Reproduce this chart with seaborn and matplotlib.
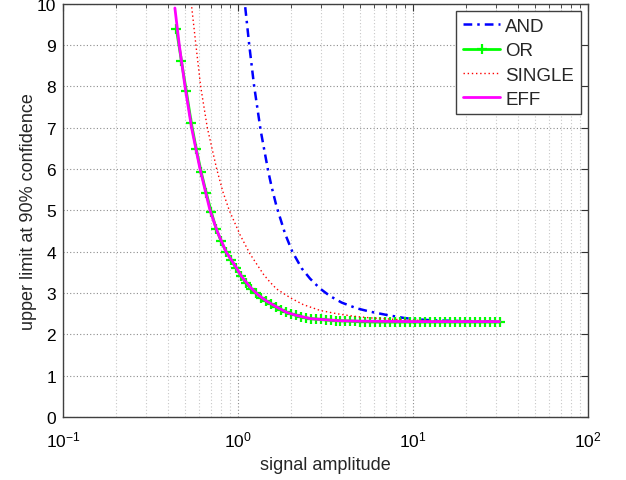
import matplotlib
matplotlib.use("Agg")
import matplotlib.pyplot as plt
import seaborn as sns
from matplotlib.ticker import LogLocator, NullFormatter

# values
amp_and = [1.10, 1.16, 1.234, 1.347, 1.49, 1.557, 1.66, 1.86, 2.04, 2.31,
           2.58, 2.94, 3.35, 3.91, 4.77, 5.68, 7.07, 8.8, 10.0, 13.0,
           20.0, 31.2]
limit_and = [9.92, 9.0, 8.04, 6.94, 5.94, 5.57, 5.10, 4.43, 4.01, 3.60,
             3.35, 3.11, 2.93, 2.77, 2.63, 2.55, 2.47, 2.40, 2.37, 2.34,
             2.32, 2.31]

amp_or = [0.445, 0.475, 0.507, 0.541, 0.578, 0.617, 0.659, 0.703, 0.751, 0.802,
          0.856, 0.914, 0.975, 1.041, 1.112, 1.187, 1.267, 1.353, 1.444, 1.542,
          1.646, 1.757, 1.876, 2.003, 2.138, 2.283, 2.437, 2.602, 2.778, 2.965,
          3.166, 3.38, 3.61, 3.85, 4.11, 4.39, 4.69, 5.00, 5.34, 5.70,
          6.09, 6.50, 6.94, 7.41, 7.91, 8.44, 9.01, 9.62, 10.27, 10.97,
          11.71, 12.50, 13.35, 14.25, 15.21, 16.24, 17.34, 18.51, 19.76, 21.10,
          22.52, 24.05, 25.67, 27.41, 29.26, 31.24]
limit_or = [9.38, 8.62, 7.88, 7.12, 6.48, 5.92, 5.42, 4.97, 4.55, 4.25,
            4.00, 3.80, 3.60, 3.41, 3.24, 3.10, 2.99, 2.89, 2.81, 2.74,
            2.67, 2.60, 2.54, 2.50, 2.46, 2.42, 2.40, 2.38, 2.37, 2.36,
            2.35, 2.34, 2.335, 2.33, 2.325, 2.32, 2.315, 2.31, 2.31, 2.305,
            2.30, 2.30, 2.30, 2.30, 2.30, 2.30, 2.30, 2.30, 2.30, 2.30,
            2.30, 2.30, 2.30, 2.30, 2.30, 2.30, 2.30, 2.30, 2.30, 2.30,
            2.30, 2.30, 2.30, 2.30, 2.30, 2.30]

amp_single = [0.544, 0.575, 0.612, 0.668, 0.756, 0.82, 0.892, 1.03, 1.17, 1.4,
              1.52, 1.66, 2.0, 2.36, 2.94, 3.66, 4.56, 5.68, 8.8, 15.0, 31.2]
limit_single = [9.92, 9.0, 8.0, 7.0, 6.0, 5.45, 5.0, 4.40, 3.95, 3.45,
                3.27, 3.10, 2.88, 2.72, 2.58, 2.50, 2.44, 2.40, 2.35, 2.32, 2.31]

amp_eff = [0.436, 0.462, 0.498, 0.543, 0.607, 0.692, 0.76, 0.854, 0.95, 1.05,
           1.17, 1.3, 1.45, 1.65, 1.9, 2.2, 2.6, 3.0, 3.8, 5.0,
           7.0, 10.0, 15.0, 22.0, 31.2]
limit_eff = [9.90, 9.0, 8.0, 7.0, 6.0, 5.0, 4.5, 4.0, 3.70, 3.40,
             3.15, 2.96, 2.81, 2.67, 2.53, 2.45, 2.38, 2.36, 2.33, 2.32,
             2.315, 2.31, 2.31, 2.31, 2.31]

sns.set_theme(style="white")
plt.rcParams["font.family"] = ["Liberation Sans", "DejaVu Sans"]
plt.rcParams["mathtext.fontset"] = "custom"
plt.rcParams["mathtext.rm"] = "Liberation Sans"
plt.rcParams["mathtext.default"] = "regular"
plt.rcParams["axes.unicode_minus"] = False

fig = plt.figure(figsize=(6.26, 4.81), dpi=100)
ax = fig.add_axes([0.1006, 0.131, 0.8387, 0.8589])

sns.lineplot(x=amp_and, y=limit_and, ax=ax, color="#0000ff",
             linestyle=(0, (3.5, 2, 1, 2)), linewidth=1.8, label="AND")
sns.lineplot(x=amp_or, y=limit_or, ax=ax, color="#00ff00", linewidth=2,
             marker="+", markersize=6.5, markeredgewidth=1.6,
             markeredgecolor="#00ff00", label="OR")
sns.lineplot(x=amp_single, y=limit_single, ax=ax, color="#ff0000",
             linestyle=(0, (1, 2)), linewidth=1.0, label="SINGLE")
sns.lineplot(x=amp_eff, y=limit_eff, ax=ax, color="#ff00ff", linewidth=2,
             label="EFF")

ax.set_xscale("log")
ax.set_xlim(0.1, 100)
ax.set_ylim(0, 10)
ax.set_yticks(range(0, 11))
ax.xaxis.set_major_locator(LogLocator(base=10, numticks=10))
ax.xaxis.set_minor_locator(LogLocator(base=10, subs=range(2, 10), numticks=10))
ax.xaxis.set_minor_formatter(NullFormatter())

ax.grid(True, which="major", linestyle=(0, (1, 2)), color="#8c8c8c", linewidth=0.8)
ax.grid(True, which="minor", axis="x", linestyle=(0, (1, 2)), color="#c8c8c8",
        linewidth=0.8)
ax.tick_params(which="both", direction="in", top=True, right=True,
               colors="#333333", labelcolor="black")
ax.tick_params(which="major", length=5, width=0.8, labelsize=12.5)
ax.tick_params(which="minor", length=3, width=0.6)
ax.tick_params(axis="x", which="major", pad=9)
ax.tick_params(axis="y", which="major", pad=5)
for s in ax.spines.values():
    s.set_color("#404040")
    s.set_linewidth(1.0)
    s.set_visible(True)

ax.set_xlabel("signal amplitude", fontsize=13)
ax.set_ylabel("upper limit at 90% confidence", fontsize=13)
ax.xaxis.set_label_coords(0.5, -0.095)
ax.yaxis.set_label_coords(-0.050, 0.5)

leg = ax.legend(loc="upper right", fontsize=13.5, frameon=True, fancybox=False,
                handlelength=2.0, handletextpad=0.25, labelspacing=0.38,
                borderpad=0.35, borderaxespad=0.4, framealpha=1)
leg.get_frame().set_edgecolor("#404040")
leg.get_frame().set_linewidth(1.0)

fig.savefig("out.png", dpi=100)
plt.close(fig)
